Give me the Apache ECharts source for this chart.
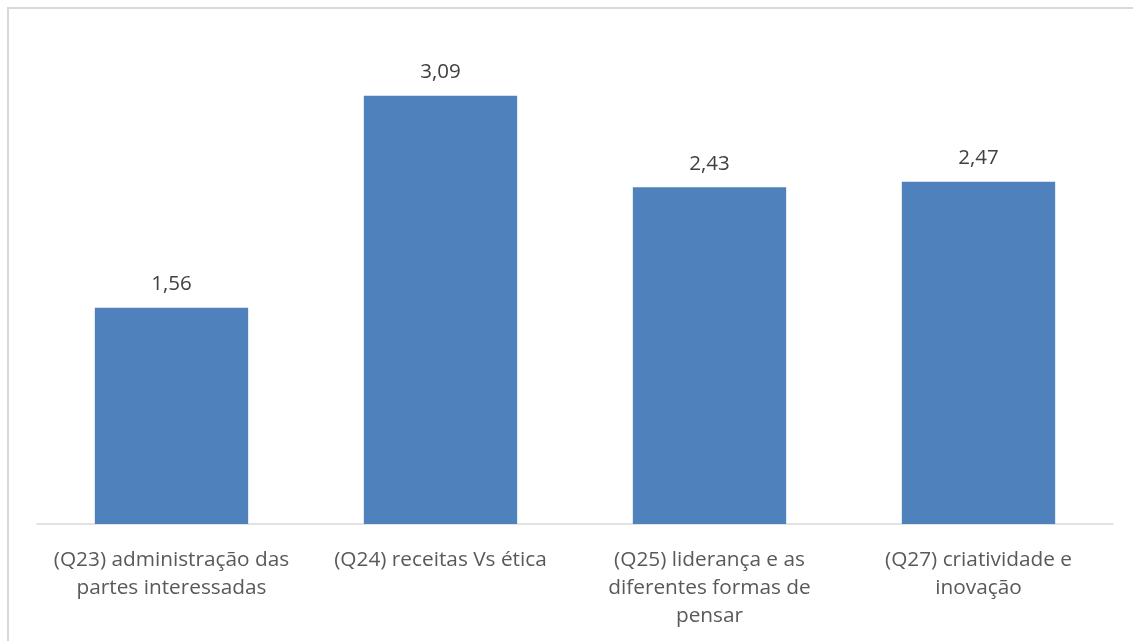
<!DOCTYPE html>
<html>
<head>
<meta charset="utf-8">
<script src="https://cdn.jsdelivr.net/npm/echarts@6/dist/echarts.min.js"></script>
<style>html,body{margin:0;padding:0;background:#fff;}#c{width:1133px;height:641px;}</style>
</head>
<body>
<div id="c"></div>
<script>
const categories = [
  "(Q23) administração das\npartes interessadas",
  "(Q24) receitas Vs ética",
  "(Q25) liderança e as\ndiferentes formas de\npensar",
  "(Q27) criatividade e\ninovação"
];
const values = [1.56, 3.09, 2.43, 2.47];

const chart = echarts.init(document.getElementById('c'));
chart.setOption({
  animation: false,
  backgroundColor: '#ffffff',
  textStyle: { fontFamily: 'Open Sans' },
  graphic: [{
    type: 'rect', silent: true, z: -10,
    shape: { x: 8, y: 8, width: 1200, height: 700 },
    style: { fill: 'none', stroke: '#d9d9d9', lineWidth: 2 }
  }],
  grid: { left: 37, right: 20, top: 39, bottom: 117, containLabel: false },
  xAxis: {
    type: 'category',
    data: categories,
    axisLine: { show: true, lineStyle: { color: '#d9d9d9', width: 1.5 } },
    axisTick: { show: false },
    axisLabel: { color: '#595959', fontSize: 20.8, lineHeight: 28, margin: 22, interval: 0, fontFamily: 'Open Sans' }
  },
  yAxis: {
    type: 'value', min: 0, max: 3.5, interval: 0.5,
    show: false,
    splitLine: { show: false }
  },
  series: [{
    type: 'bar',
    data: values,
    barCategoryGap: '43%',
    itemStyle: { color: '#4f81bd' },
    label: {
      show: true, position: 'top', distance: 13,
      color: '#404040', fontSize: 20.5, fontFamily: 'Open Sans',
      formatter: p => p.value.toFixed(2).replace('.', ',')
    }
  }]
});
</script>
</body>
</html>
